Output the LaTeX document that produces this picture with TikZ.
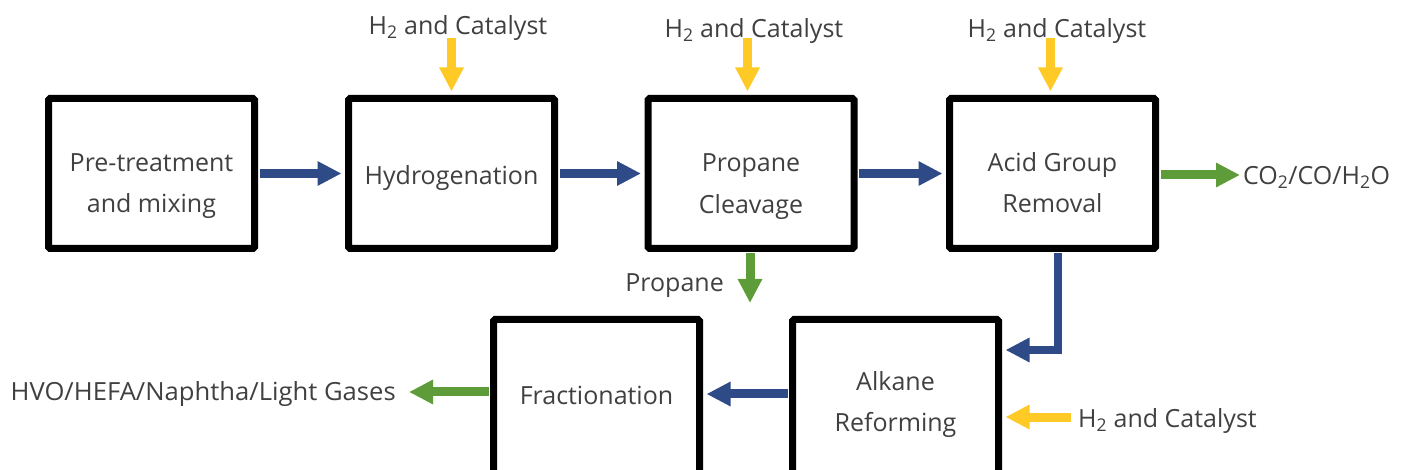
\documentclass[tikz,border=0pt]{standalone}
\usepackage{fontspec}
\setmainfont{Open Sans}
\usetikzlibrary{arrows.meta}
\definecolor{flowblue}{HTML}{2E4A87}
\definecolor{flowgreen}{HTML}{5D9C38}
\definecolor{flowyellow}{HTML}{FFC926}
\definecolor{txtgray}{HTML}{404040}
\begin{document}
\begin{tikzpicture}[x=1pt,y=-1pt,
  box/.style={draw=black, line width=7pt, rounded corners=1.5pt, minimum width=206pt,
    minimum height=150pt, inner sep=0pt},
  boxtxt/.style={align=center, text=txtgray, font=\fontsize{25}{41.5}\selectfont, inner sep=0pt},
  lbl/.style={text=txtgray, font=\fontsize{25}{30}\selectfont, inner sep=0pt},
  flow/.style={line width=9pt, -{Triangle[width=23pt,length=24pt]},
    shorten <=1.5pt, shorten >=3.5pt},
  bflow/.style={flow, draw=flowblue},
  gflow/.style={flow, draw=flowgreen},
  yflow/.style={flow, draw=flowyellow},
]
\useasboundingbox (0,0) rectangle (1409,470);
\clip (0,0) rectangle (1409,470);

% boxes
\node[box] (pre)  at (151.5,173.5) {};
\node[box] (hyd)  at (451.5,173.5) {};
\node[box] (pro)  at (751,173.5)   {};
\node[box] (acid) at (1052.5,173.5) {};
\node[box, minimum height=160pt] (frac) at (596.5,399.5) {};
\node[box, minimum height=160pt] (alk)  at (895.5,399.5) {};

% box texts
\node[boxtxt] (pretxt)  at (151.5,186)   {Pre-treatment\\and mixing};
\node[boxtxt] (hydtxt)  at (451.5,178.5) {Hydrogenation};
\node[boxtxt] (protxt)  at (751,186.5)   {Propane\\Cleavage};
\node[boxtxt] (acidtxt) at (1052.5,182.5) {Acid Group\\Removal};
\node[boxtxt] (fractxt) at (596.5,395.5) {Fractionation};
\node[boxtxt] (alktxt)  at (895.5,404.5) {Alkane\\Reforming};

% feed labels
\node[lbl] (hydH)  at (458,28)  {H\textsubscript{2} and Catalyst};
\node[lbl] (proH)  at (754,31)  {H\textsubscript{2} and Catalyst};
\node[lbl] (acidH) at (1057,31) {H\textsubscript{2} and Catalyst};
\node[lbl, anchor=east] (propl) at (724,286) {Propane};
\node[lbl, anchor=west] (co2l) at (1243,177) {CO\textsubscript{2}/CO/H\textsubscript{2}O};
\node[lbl, anchor=east, xscale=1.025] (outl) at (396,394) {HVO/HEFA/Naphtha/Light Gases};
\node[lbl, anchor=west] (alkH) at (1078,421) {H\textsubscript{2} and Catalyst};

% coordinates
\coordinate (hydin)  at (451.5,38);
\coordinate (proin)  at (747.5,38);
\coordinate (acidin) at (1050.5,38);
\coordinate (propout) at (750,306.5);
\coordinate (co2out) at (1243.5,175);
\coordinate (elb) at (1058,350);
\coordinate (row) at (0,394);
\coordinate (fout) at (405.5,392);
\coordinate (alkin) at (1070.5,417);

% main flow
\draw[bflow] (pre.east) -- (hyd.west);
\draw[bflow] (hyd.east) -- (pro.west);
\draw[bflow] (pro.east) -- (acid.west);
\draw[bflow, line width=7.5pt] (acid.south -| elb) -- (elb) -- (alk.east |- elb);
\draw[bflow] (alk.west |- row) -- (frac.east |- row);

% feeds
\draw[yflow, shorten <=0pt] (hydin) -- (hyd.north);
\draw[yflow, shorten <=0pt] (proin) -- (pro.north -| proin);
\draw[yflow, shorten <=0pt] (acidin) -- (acid.north -| acidin);
\draw[yflow, shorten <=0pt] (alkin) -- (alk.east |- alkin);

% products
\draw[gflow] (pro.south -| propout) -- (propout);
\draw[gflow] (acid.east |- co2out) -- (co2out);
\draw[gflow] (frac.west |- fout) -- (fout);
\end{tikzpicture}
\end{document}
